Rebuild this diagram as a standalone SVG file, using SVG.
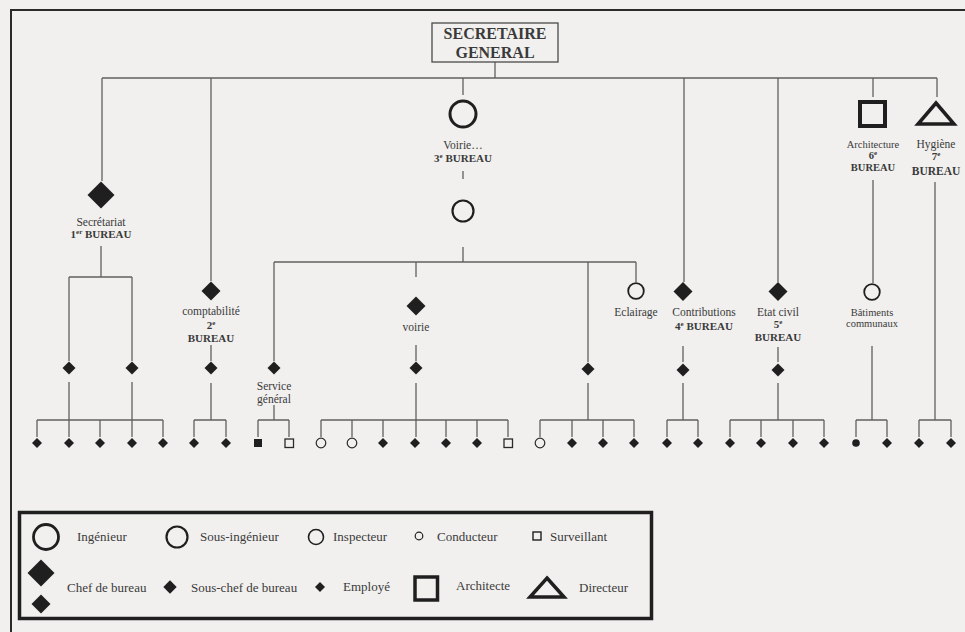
<svg xmlns="http://www.w3.org/2000/svg" xmlns:xlink="http://www.w3.org/1999/xlink" width="965" height="632" viewBox="0 0 965 632">
<style>
.t{font-family:"Liberation Serif","Times New Roman",serif;fill:#3a3a3a;text-anchor:middle}
.b{font-weight:bold}
.lg{font-family:"Liberation Serif","Times New Roman",serif;fill:#3a3a3a;font-size:13px}
.ln{fill:none;stroke:#606060;stroke-width:1.3}
.blk{fill:#1f1f1f}
.oc{fill:none;stroke:#1f1f1f}
</style>
<defs>
<polygon id="dlg" points="0,-13.5 13.5,0 0,13.5 -13.5,0"/>
<polygon id="dmd" points="0,-9.5 9.5,0 0,9.5 -9.5,0"/>
<polygon id="dsm" points="0,-6.5 6.5,0 0,6.5 -6.5,0"/>
<polygon id="dxs" points="0,-5 5,0 0,5 -5,0"/>
</defs>
<rect width="965" height="632" fill="#f1f0ee"/>
<path d="M11,632 V10 H965" fill="none" stroke="#2a2a2a" stroke-width="2"/>

<g id="connectors" class="ln">
<path d="M495,62 V78 M102,78 H937 M102,78 V181 M211,78 V281 M463,78 V95 M684,78 V282 M778,78 V282 M873,78 V97 M937,78 V97"/>
<path d="M463,171 V179 M463,247 V262 M274,262 H636 M274,262 V361 M416,262 V277 M588,262 V362 M636,262 V282"/>
<path d="M101,246 V277 M69,277 H132 M69,277 V361 M132,277 V361 M69,382 V437 M132,382 V437 M37,420 H163 M37,420 V437 M100,420 V437 M163,420 V437"/>
<path d="M211,345 V361 M211,383 V420 M194,420 H226 M194,420 V437 M226,420 V437"/>
<path d="M274,405 V420 M258,420 H289 M258,420 V437 M289,420 V437"/>
<path d="M416,345 V361 M416,383 V437 M321,420 H508 M321,420 V437 M352,420 V437 M383,420 V437 M446,420 V437 M477,420 V437 M508,420 V437"/>
<path d="M588,383 V420 M540,420 H634 M540,420 V437 M572,420 V437 M603,420 V437 M634,420 V437"/>
<path d="M683,346 V362 M683,383 V420 M667,420 H698 M667,420 V437 M698,420 V437"/>
<path d="M778,347 V362 M778,383 V420 M730,420 H824 M730,420 V437 M761,420 V437 M793,420 V437 M824,420 V437"/>
<path d="M873,180 V283 M872,346 V420 M856,420 H887 M856,420 V437 M887,420 V437"/>
<path d="M935,182 V420 M919,420 H951 M919,420 V437 M951,420 V437"/>
</g>

<g id="secretaire-general">
<rect x="432" y="23" width="126" height="39" fill="none" stroke="#4a4a4a" stroke-width="1.3"/>
<text class="t b" x="495" y="38.5" font-size="16">SECRETAIRE</text>
<text class="t b" x="495" y="57.5" font-size="16">GENERAL</text>
</g>

<g id="secretariat">
<use href="#dlg" x="101" y="195" class="blk"/>
<text class="t" x="101" y="226" font-size="11.5">Secrétariat</text>
<text class="t b" x="101" y="238" font-size="11">1<tspan font-size="7" dy="-4">er</tspan><tspan dy="4"> BUREAU</tspan></text>
</g>

<g id="comptabilite">
<use href="#dmd" x="211" y="291" class="blk"/>
<text class="t" x="211" y="315" font-size="11.5">comptabilité</text>
<text class="t b" x="211" y="329" font-size="11">2<tspan font-size="7" dy="-4">e</tspan></text>
<text class="t b" x="211" y="342" font-size="11">BUREAU</text>
</g>

<g id="voirie-3e-bureau">
<circle cx="463" cy="114" r="13" class="oc" stroke-width="3"/>
<text class="t" x="463" y="149" font-size="11.5">Voirie…</text>
<text class="t b" x="463" y="162" font-size="11">3<tspan font-size="7" dy="-4">e</tspan><tspan dy="4"> BUREAU</tspan></text>
</g>

<g id="voirie-ingenieur">
<circle cx="463" cy="211" r="10.5" class="oc" stroke-width="2.2"/>
</g>

<g id="service-general">
<use href="#dsm" x="274" y="368" class="blk"/>
<text class="t" x="274" y="390" font-size="11.5">Service</text>
<text class="t" x="274" y="403" font-size="11.5">général</text>
</g>

<g id="voirie">
<use href="#dmd" x="416" y="306" class="blk"/>
<text class="t" x="416" y="331" font-size="11.5">voirie</text>
<use href="#dsm" x="416" y="368" class="blk"/>
</g>

<g id="groupe-droit">
<use href="#dsm" x="588" y="369" class="blk"/>
</g>

<g id="eclairage">
<circle cx="636" cy="291" r="7.8" class="oc" stroke-width="1.8"/>
<text class="t" x="636" y="316" font-size="11.5">Eclairage</text>
</g>

<g id="contributions">
<use href="#dmd" x="683" y="291.5" class="blk"/>
<text class="t" x="704" y="316" font-size="11.5">Contributions</text>
<text class="t b" x="704" y="330" font-size="11">4<tspan font-size="7" dy="-4">e</tspan><tspan dy="4"> BUREAU</tspan></text>
<use href="#dsm" x="683" y="370" class="blk"/>
</g>

<g id="etat-civil">
<use href="#dmd" x="778" y="291.5" class="blk"/>
<text class="t" x="778" y="316" font-size="11.5">Etat civil</text>
<text class="t b" x="778" y="328" font-size="11">5<tspan font-size="7" dy="-4">e</tspan></text>
<text class="t b" x="778" y="341" font-size="11">BUREAU</text>
<use href="#dsm" x="778" y="370" class="blk"/>
</g>

<g id="architecture">
<rect x="860" y="102" width="25" height="24" class="oc" stroke-width="4"/>
<text class="t" x="873" y="148" font-size="10.5">Architecture</text>
<text class="t b" x="873" y="159" font-size="10.5">6<tspan font-size="7" dy="-4">e</tspan></text>
<text class="t b" x="873" y="171" font-size="10.5">BUREAU</text>
</g>

<g id="hygiene">
<polygon points="936,103 954,124 918,124" class="oc" stroke-width="3.5"/>
<text class="t" x="936" y="148" font-size="11.5">Hygiène</text>
<text class="t b" x="936" y="160" font-size="11">7<tspan font-size="7" dy="-4">e</tspan></text>
<text class="t b" x="936" y="175" font-size="11.5">BUREAU</text>
</g>

<g id="batiments-communaux">
<circle cx="872" cy="292" r="7.8" class="oc" stroke-width="1.8"/>
<text class="t" x="872" y="316" font-size="10.5">Bâtiments</text>
<text class="t" x="872" y="327" font-size="10.5">communaux</text>
</g>

<g id="sous-chefs">
<use href="#dsm" x="69" y="368" class="blk"/>
<use href="#dsm" x="132" y="368" class="blk"/>
<use href="#dsm" x="211" y="368" class="blk"/>
</g>

<g id="agents">
<use href="#dxs" x="37" y="443" class="blk"/>
<use href="#dxs" x="69" y="443" class="blk"/>
<use href="#dxs" x="100" y="443" class="blk"/>
<use href="#dxs" x="132" y="443" class="blk"/>
<use href="#dxs" x="163" y="443" class="blk"/>
<use href="#dxs" x="194" y="443" class="blk"/>
<use href="#dxs" x="226" y="443" class="blk"/>
<rect x="254" y="439" width="8" height="8" class="blk"/>
<rect x="285" y="439" width="8.5" height="8.5" fill="none" stroke="#2a2a2a" stroke-width="1.3"/>
<circle cx="321" cy="443" r="4.8" fill="none" stroke="#2a2a2a" stroke-width="1.2"/>
<circle cx="352" cy="443" r="4.8" fill="none" stroke="#2a2a2a" stroke-width="1.2"/>
<use href="#dxs" x="383" y="443" class="blk"/>
<use href="#dxs" x="415" y="443" class="blk"/>
<use href="#dxs" x="446" y="443" class="blk"/>
<use href="#dxs" x="477" y="443" class="blk"/>
<rect x="504" y="439" width="8.5" height="8.5" fill="none" stroke="#2a2a2a" stroke-width="1.3"/>
<circle cx="540" cy="443" r="4.8" fill="none" stroke="#2a2a2a" stroke-width="1.2"/>
<use href="#dxs" x="572" y="443" class="blk"/>
<use href="#dxs" x="603" y="443" class="blk"/>
<use href="#dxs" x="634" y="443" class="blk"/>
<use href="#dxs" x="667" y="443" class="blk"/>
<use href="#dxs" x="698" y="443" class="blk"/>
<use href="#dxs" x="730" y="443" class="blk"/>
<use href="#dxs" x="761" y="443" class="blk"/>
<use href="#dxs" x="793" y="443" class="blk"/>
<use href="#dxs" x="824" y="443" class="blk"/>
<circle cx="856" cy="443" r="3.8" class="blk"/>
<use href="#dxs" x="887" y="443" class="blk"/>
<use href="#dxs" x="919" y="443" class="blk"/>
<use href="#dxs" x="951" y="443" class="blk"/>
</g>

<g id="legend">
<rect x="19.5" y="512.5" width="632" height="106" fill="none" stroke="#1f1f1f" stroke-width="3.5"/>
<circle cx="46" cy="537" r="12.5" class="oc" stroke-width="2.8"/>
<text class="lg" x="77" y="541">Ingénieur</text>
<circle cx="177" cy="537" r="10.5" class="oc" stroke-width="2.2"/>
<text class="lg" x="200" y="541">Sous-ingénieur</text>
<circle cx="316" cy="537" r="7.5" class="oc" stroke-width="1.6"/>
<text class="lg" x="333" y="541">Inspecteur</text>
<circle cx="419" cy="536" r="3.8" class="oc" stroke-width="1.2"/>
<text class="lg" x="437" y="541">Conducteur</text>
<rect x="533" y="532" width="8" height="8" class="oc" stroke-width="1.4"/>
<text class="lg" x="550" y="541">Surveillant</text>
<use href="#dlg" x="41" y="573" class="blk"/>
<polygon points="41,594.5 50.5,604 41,613.5 31.5,604" class="blk"/>
<text class="lg" x="67" y="592">Chef de bureau</text>
<polygon points="170,580.3 176.7,587 170,593.7 163.3,587" class="blk"/>
<text class="lg" x="191" y="592">Sous-chef de bureau</text>
<use href="#dxs" x="320" y="587" class="blk"/>
<text class="lg" x="343" y="591">Employé</text>
<rect x="415" y="577" width="22.5" height="23" class="oc" stroke-width="3.5"/>
<text class="lg" x="456" y="590">Architecte</text>
<polygon points="547,578 564,597 530,597" class="oc" stroke-width="3.5"/>
<text class="lg" x="579" y="592">Directeur</text>
</g>
</svg>
